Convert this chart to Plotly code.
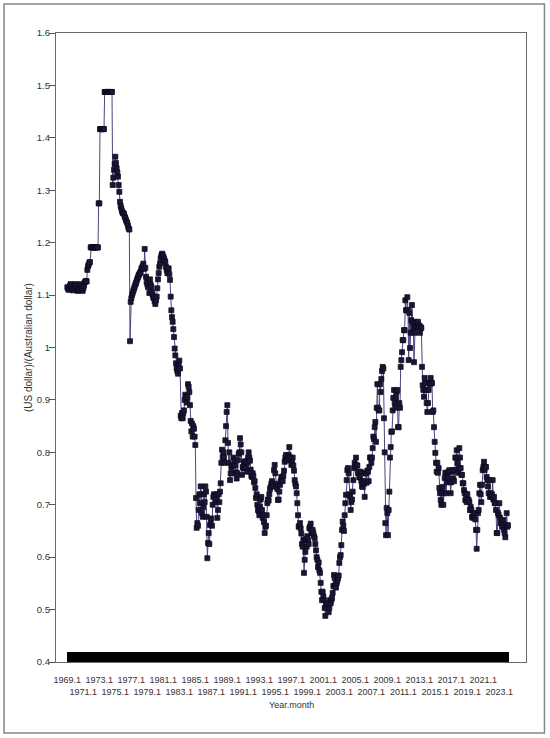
import plotly.graph_objects as go

# =============================================================================
# DATA  (US dollar per Australian dollar, monthly, 1969.1 - 2024.2)
# =============================================================================

rate_1969_1979 = [
    1.115, 1.112, 1.110, 1.113, 1.118, 1.121, 1.117, 1.112, 1.109, 1.112, 1.116, 1.119,  # 1969
    1.121, 1.118, 1.113, 1.109, 1.108, 1.112, 1.116, 1.119, 1.121, 1.117, 1.111, 1.108,  # 1970
    1.113, 1.118, 1.124, 1.126, 1.127, 1.126, 1.148, 1.155, 1.158, 1.162, 1.163, 1.191,  # 1971
    1.191, 1.191, 1.191, 1.191, 1.191, 1.191, 1.191, 1.191, 1.191, 1.191, 1.191, 1.275,  # 1972
    1.275, 1.4167, 1.4167, 1.4167, 1.4167, 1.4167, 1.4167, 1.4167, 1.4875, 1.4875, 1.4875, 1.4875,  # 1973
    1.4875, 1.4875, 1.4875, 1.4875, 1.4875, 1.4875, 1.4875, 1.4875, 1.31, 1.324, 1.339, 1.35,  # 1974
    1.364, 1.352, 1.342, 1.334, 1.326, 1.31, 1.297, 1.278, 1.27, 1.265, 1.26, 1.257,  # 1975
    1.256, 1.255, 1.25, 1.247, 1.243, 1.24, 1.237, 1.232, 1.227, 1.225, 1.012, 1.087,  # 1976
    1.094, 1.10, 1.104, 1.108, 1.112, 1.116, 1.12, 1.123, 1.127, 1.131, 1.134, 1.138,  # 1977
    1.14, 1.142, 1.145, 1.15, 1.152, 1.155, 1.16, 1.15, 1.188, 1.152, 1.135, 1.125,  # 1978
    1.12, 1.115, 1.125, 1.104, 1.13, 1.12, 1.116, 1.106, 1.10, 1.095, 1.094, 1.088,  # 1979
]

rate_1980_1989 = [
    1.083, 1.09, 1.097, 1.113, 1.13, 1.142, 1.154, 1.16, 1.17, 1.175, 1.179, 1.177,  # 1980
    1.173, 1.17, 1.166, 1.163, 1.154, 1.148, 1.142, 1.145, 1.151, 1.14, 1.129, 1.097,  # 1981
    1.071, 1.058, 1.049, 1.035, 1.02, 0.998, 0.985, 0.97, 0.96, 0.955, 0.95, 0.965,  # 1982
    0.975, 0.96, 0.87, 0.865, 0.875, 0.865, 0.875, 0.88, 0.9, 0.91, 0.905, 0.895,  # 1983
    0.905, 0.93, 0.925, 0.915, 0.89, 0.86, 0.84, 0.855, 0.83, 0.85, 0.845, 0.83,  # 1984
    0.814, 0.713, 0.656, 0.665, 0.66, 0.69, 0.72, 0.703, 0.735, 0.72, 0.684, 0.677,  # 1985
    0.695, 0.72, 0.705, 0.735, 0.725, 0.677, 0.598, 0.627, 0.646, 0.625, 0.661, 0.665,  # 1986
    0.674, 0.66, 0.70, 0.715, 0.72, 0.718, 0.705, 0.71, 0.72, 0.675, 0.69, 0.72,  # 1987
    0.705, 0.725, 0.741, 0.78, 0.805, 0.791, 0.80, 0.79, 0.78, 0.823, 0.85, 0.877,  # 1988
    0.89, 0.818, 0.78, 0.80, 0.747, 0.76, 0.772, 0.76, 0.775, 0.79, 0.775, 0.785,  # 1989
]

rate_1990_1999 = [
    0.775, 0.762, 0.75, 0.76, 0.785, 0.797, 0.80, 0.827, 0.815, 0.80, 0.757, 0.772,  # 1990
    0.77, 0.782, 0.77, 0.783, 0.77, 0.763, 0.78, 0.79, 0.80, 0.79, 0.784, 0.767,  # 1991
    0.755, 0.753, 0.76, 0.755, 0.743, 0.745, 0.732, 0.713, 0.72, 0.70, 0.69, 0.688,  # 1992
    0.68, 0.696, 0.71, 0.715, 0.69, 0.675, 0.68, 0.667, 0.646, 0.658, 0.66, 0.68,  # 1993
    0.703, 0.71, 0.708, 0.72, 0.73, 0.734, 0.74, 0.745, 0.74, 0.735, 0.766, 0.776,  # 1994
    0.76, 0.74, 0.735, 0.73, 0.709, 0.71, 0.725, 0.738, 0.745, 0.753, 0.75, 0.745,  # 1995
    0.755, 0.765, 0.782, 0.79, 0.795, 0.785, 0.785, 0.79, 0.795, 0.81, 0.79, 0.79,  # 1996
    0.776, 0.78, 0.79, 0.775, 0.765, 0.747, 0.74, 0.735, 0.722, 0.703, 0.68, 0.658,  # 1997
    0.66, 0.665, 0.655, 0.645, 0.625, 0.62, 0.633, 0.57, 0.595, 0.61, 0.635, 0.62,  # 1998
    0.64, 0.632, 0.625, 0.655, 0.658, 0.664, 0.652, 0.645, 0.652, 0.646, 0.64, 0.636,  # 1999
]

rate_2000_2009 = [
    0.625, 0.613, 0.60, 0.595, 0.581, 0.59, 0.575, 0.57, 0.551, 0.534, 0.518, 0.534,  # 2000
    0.525, 0.518, 0.503, 0.488, 0.51, 0.512, 0.503, 0.51, 0.495, 0.503, 0.518, 0.512,  # 2001
    0.518, 0.522, 0.532, 0.545, 0.566, 0.56, 0.547, 0.542, 0.55, 0.555, 0.56, 0.565,  # 2002
    0.589, 0.60, 0.604, 0.623, 0.652, 0.668, 0.66, 0.65, 0.68, 0.703, 0.719, 0.747,  # 2003
    0.766, 0.77, 0.76, 0.72, 0.715, 0.69, 0.705, 0.71, 0.725, 0.747, 0.77, 0.78,  # 2004
    0.775, 0.79, 0.775, 0.775, 0.76, 0.763, 0.752, 0.753, 0.763, 0.745, 0.735, 0.734,  # 2005
    0.745, 0.74, 0.715, 0.76, 0.76, 0.742, 0.765, 0.763, 0.745, 0.772, 0.79, 0.79,  # 2006
    0.78, 0.79, 0.808, 0.83, 0.825, 0.848, 0.858, 0.82, 0.885, 0.93, 0.885, 0.88,  # 2007
    0.88, 0.93, 0.915, 0.94, 0.955, 0.963, 0.96, 0.865, 0.80, 0.665, 0.642, 0.694,  # 2008
    0.684, 0.642, 0.69, 0.725, 0.79, 0.81, 0.839, 0.84, 0.88, 0.904, 0.919, 0.894,  # 2009
]

rate_2010_2019 = [
    0.885, 0.904, 0.915, 0.919, 0.848, 0.848, 0.894, 0.885, 0.963, 0.976, 0.991, 1.014,  # 2010
    1.014, 1.033, 1.033, 1.09, 1.071, 1.071, 1.096, 1.071, 0.976, 1.066, 0.999, 1.028,  # 2011
    1.052, 1.081, 1.047, 1.037, 0.972, 1.028, 1.049, 1.039, 1.047, 1.039, 1.049, 1.039,  # 2012
    1.042, 1.028, 1.039, 1.037, 0.963, 0.928, 0.919, 0.906, 0.942, 0.932, 0.919, 0.894,  # 2013
    0.877, 0.894, 0.919, 0.932, 0.93, 0.942, 0.932, 0.932, 0.877, 0.88, 0.848, 0.82,  # 2014
    0.799, 0.78, 0.763, 0.78, 0.761, 0.77, 0.732, 0.722, 0.709, 0.70, 0.722, 0.734,  # 2015
    0.70, 0.722, 0.751, 0.761, 0.722, 0.743, 0.761, 0.751, 0.763, 0.766, 0.743, 0.722,  # 2016
    0.743, 0.763, 0.766, 0.75, 0.745, 0.766, 0.79, 0.79, 0.804, 0.78, 0.761, 0.77,  # 2017
    0.808, 0.79, 0.77, 0.757, 0.757, 0.741, 0.741, 0.728, 0.722, 0.709, 0.72, 0.705,  # 2018
    0.72, 0.71, 0.709, 0.705, 0.69, 0.696, 0.69, 0.677, 0.675, 0.684, 0.677, 0.684,  # 2019
]

rate_2020_2024 = [
    0.672, 0.652, 0.616, 0.652, 0.684, 0.69, 0.722, 0.738, 0.72, 0.705, 0.738, 0.766,  # 2020
    0.772, 0.782, 0.766, 0.772, 0.772, 0.753, 0.747, 0.735, 0.722, 0.747, 0.715, 0.722,  # 2021
    0.715, 0.72, 0.747, 0.71, 0.715, 0.703, 0.703, 0.69, 0.646, 0.646, 0.684, 0.68,  # 2022
    0.703, 0.675, 0.665, 0.665, 0.658, 0.665, 0.671, 0.652, 0.646, 0.638, 0.661, 0.684,  # 2023
    0.658, 0.661,  # 2024
]

rates = (rate_1969_1979 + rate_1980_1989 + rate_1990_1999
         + rate_2000_2009 + rate_2010_2019 + rate_2020_2024)

# year.month categories
months = []
for i in range(len(rates)):
    months.append(f"{1969 + i // 12}.{i % 12 + 1}")

# labelled every two years, alternating between two rows
label_years = list(range(1969, 2024, 2))
tick_text = []
for m in months:
    y, mo = m.split(".")
    y = int(y)
    if mo == "1" and y in label_years:
        tick_text.append(m if (y - 1969) % 4 == 0 else "<br>" + m)
    else:
        tick_text.append("")

y_ticks = [0.4, 0.5, 0.6, 0.7, 0.8, 0.9, 1.0, 1.1, 1.2, 1.3, 1.4, 1.5, 1.6]
y_tick_text = ["0.4", "0.5", "0.6", "0.7", "0.8", "0.9", "1", "1.1", "1.2", "1.3", "1.4", "1.5", "1.6"]

# =============================================================================
# FIGURE
# =============================================================================

FONT = "Liberation Sans, Arial, sans-serif"

fig = go.Figure()

fig.add_trace(go.Scatter(
    x=months, y=rates, mode="lines+markers",
    line=dict(color="#4b4580", width=1),
    marker=dict(symbol="square", size=5, color="#1b1535",
                line=dict(color="#0d0a1c", width=0.7)),
    showlegend=False,
))

fig.update_layout(
    width=550, height=738,
    margin=dict(l=56, r=24, t=33, b=76, autoexpand=False),
    paper_bgcolor="white", plot_bgcolor="white",
    font=dict(family=FONT, size=9, color="#333333"),
)

fig.update_xaxes(
    type="category", automargin=False,
    range=[-17.0, 688.0],
    tickmode="array", tickvals=months, ticktext=tick_text,
    ticks="inside", ticklen=10, tickwidth=1, tickcolor="black",
    ticklabelstandoff=9,
    tickangle=0,
    tickfont=dict(size=9, color="#333333"),
    showline=True, mirror=True, linecolor="#6a6a6a", linewidth=1.2,
    showgrid=False, zeroline=False,
)

fig.update_yaxes(
    automargin=False,
    range=[0.4, 1.6],
    tickmode="array", tickvals=y_ticks, ticktext=y_tick_text,
    ticks="outside", ticklen=6, tickwidth=1, tickcolor="#555555",
    ticklabelstandoff=-3,
    tickfont=dict(size=9.5, color="#333333"),
    showline=True, mirror=True, linecolor="#6a6a6a", linewidth=1.2,
    showgrid=False, zeroline=False,
)

# axis titles
fig.add_annotation(text="(US dollar)/(Australian dollar)", xref="paper", yref="paper",
                   x=-0.0585, y=0.5, xanchor="center", yanchor="middle",
                   textangle=-90, showarrow=False,
                   font=dict(family=FONT, size=10, color="#333333"))
fig.add_annotation(text="Year.month", xref="paper", yref="paper",
                   x=0.5, y=-0.0684, xanchor="center", yanchor="middle",
                   showarrow=False,
                   font=dict(family=FONT, size=9, color="#333333"))

# outer frame
fig.add_shape(type="rect", xref="paper", yref="paper",
              x0=-0.1105, x1=1.0393, y0=-0.1129, y1=1.0461,
              line=dict(color="#858585", width=1.5))

# page body margin removed so the 550x738 figure fills the window
fix_page = ("document.body.style.margin='0';"
            "document.body.style.overflow='hidden';"
            "Plotly.relayout('{plot_id}', {width: 550, height: 738});")

fig.write_html("out.html", post_script=fix_page,
               config={"responsive": False, "displayModeBar": False})
